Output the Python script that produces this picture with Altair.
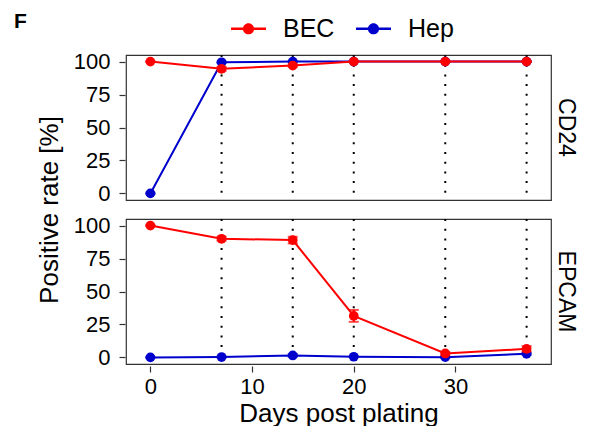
import altair as alt
import pandas as pd

days = [0, 7, 14, 20, 29, 37]
markers = ["CD24", "EPCAM"]
groups = ["BEC", "Hep"]

cd24_bec = [100, 94.5, 97, 100, 100, 100]
cd24_hep = [0, 99.5, 100, 100, 100, 100]
epcam_bec = [100, 90, 89, 31.5, 3, 6.5]
epcam_hep = [0, 0.3, 1.5, 0.5, 0.2, 2.7]

cd24_bec_se = [0.3, 1.5, 1.0, 0.3, 0.3, 0.3]
cd24_hep_se = [0.5, 0.5, 0.3, 0.2, 0.2, 0.2]
epcam_bec_se = [0.5, 1.5, 2.5, 4.5, 1.0, 2.0]
epcam_hep_se = [0.3, 0.3, 1.0, 0.3, 0.5, 0.8]

rows = []
for marker, group, vals, ses in [
    ("CD24", "BEC", cd24_bec, cd24_bec_se),
    ("CD24", "Hep", cd24_hep, cd24_hep_se),
    ("EPCAM", "BEC", epcam_bec, epcam_bec_se),
    ("EPCAM", "Hep", epcam_hep, epcam_hep_se),
]:
    for d, v, s in zip(days, vals, ses):
        rows.append({"marker": marker, "group": group, "day": d,
                     "rate": v, "lo": v - s, "hi": v + s})
df = pd.DataFrame(rows)

RED = "#FF0000"
BLUE = "#0000CD"
FONT = "Liberation Sans"

xs = alt.Scale(domain=[-2.4, 39.4], nice=False, zero=False)
ys = alt.Scale(domain=[-5, 105], nice=False)

x_axis = alt.Axis(values=[0, 10, 20, 30], grid=False, domain=False,
                  tickSize=6, tickColor="#333333", tickWidth=1.2, labelFontSize=22,
                  labelColor="black", titleFontSize=26, titleColor="black",
                  titleFontWeight="normal", labelPadding=4, titlePadding=3,
                  labelFont=FONT, titleFont=FONT, labelOverlap=False)
y_axis = alt.Axis(values=[0, 25, 50, 75, 100], grid=False, domain=False,
                  tickSize=6, tickColor="#333333", tickWidth=1.2, labelFontSize=22,
                  labelColor="black", labelPadding=9, labelFont=FONT,
                  labelOverlap=False, labelBound=False, labelFlush=False)


def X(field="day"):
    return alt.X(f"{field}:Q", scale=xs, title="Days post plating", axis=x_axis)


def Yc(field):
    return alt.Y(f"{field}:Q", scale=ys, title=None, axis=y_axis)


base = alt.Chart()

rules = base.mark_rule(color="black", strokeWidth=2, strokeDash=[2, 7.7]).encode(
    x=X()
).transform_filter("datum.group == 'BEC' && datum.day > 0")

legend_path = ("M-1,-0.07H1V0.07H-1Z "
               "M0.32,0A0.32,0.32 0 1,1 -0.32,0A0.32,0.32 0 1,1 0.32,0Z")

color = alt.Color("group:N", scale=alt.Scale(domain=groups, range=[RED, BLUE]),
                  legend=alt.Legend(title=None, orient="none", direction="horizontal",
                                    legendX=105, legendY=-44, symbolType=legend_path,
                                    symbolSize=1225, symbolStrokeWidth=0,
                                    labelFontSize=25, labelFont=FONT, labelColor="black",
                                    labelOffset=17, columnPadding=21, symbolOpacity=1))


def series(group, col):
    flt = f"datum.group == '{group}'"
    line = base.mark_line(color=col, strokeWidth=2).encode(x=X(), y=Yc("rate")).transform_filter(flt)
    err = base.mark_rule(color=col, strokeWidth=2).encode(
        x=X(), y=Yc("lo"), y2="hi:Q"
    ).transform_filter(flt)
    cap_lo = base.mark_tick(color=col, orient="horizontal", size=10, thickness=2).encode(
        x=X(), y=Yc("lo")
    ).transform_filter(flt)
    cap_hi = base.mark_tick(color=col, orient="horizontal", size=10, thickness=2).encode(
        x=X(), y=Yc("hi")
    ).transform_filter(flt)
    pts = base.mark_circle(size=95, opacity=1).encode(
        x=X(), y=Yc("rate"), color=color).transform_filter(flt)
    return [line, err, cap_lo, cap_hi, pts]


layers = [rules] + series("Hep", BLUE) + series("BEC", RED)

chart = alt.layer(*layers, data=df).properties(width=425, height=145).facet(
    row=alt.Row("marker:N", sort=markers,
                header=alt.Header(title="Positive rate [%]", titleOrient="left",
                                  titleAngle=270, titleFontSize=26, titleFont=FONT,
                                  titleColor="black", titleFontWeight="normal",
                                  titlePadding=-26,
                                  labelOrient="right", labelAngle=90,
                                  labelFontSize=23, labelFont=FONT, labelColor="black",
                                  labelPadding=2)),
    spacing=15,
).properties(
    title=alt.TitleParams("F", anchor="start", frame="bounds", fontSize=21,
                          fontWeight="bold", font=FONT, color="black", dx=-23, offset=-21)
).configure(
    padding={"left": 5, "top": 3, "right": 0, "bottom": 0}
).configure_view(stroke="#333333", strokeWidth=1.2)

chart.save("out.html", embed_options={"renderer": "svg", "actions": False})
